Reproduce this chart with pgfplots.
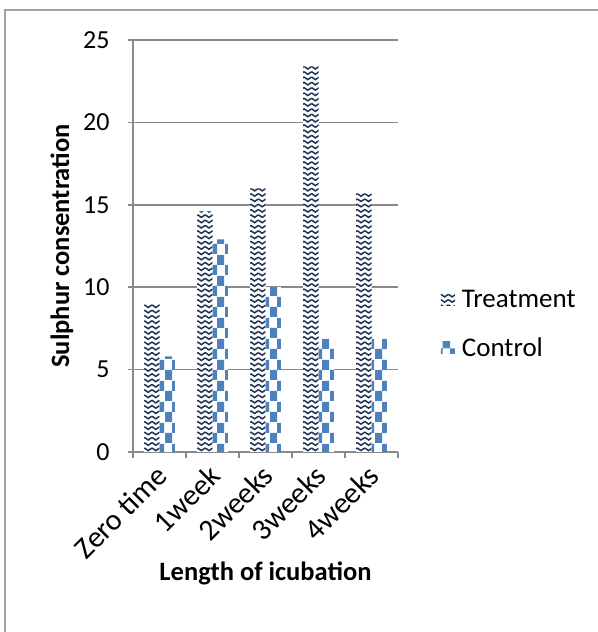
\documentclass[border=0pt]{standalone}
\usepackage{fontspec}
\setmainfont{Carlito}
\usepackage{pgfplots}
\pgfplotsset{compat=1.18}
\usetikzlibrary{patterns}

\definecolor{gridgray}{HTML}{8A8A8A}
\definecolor{navyT}{HTML}{1F3356}
\definecolor{blueC}{HTML}{4F81BD}

\pgfdeclarepatternformonly{waveT}{\pgfqpoint{-1bp}{-1bp}}{\pgfqpoint{9bp}{6.3bp}}{\pgfqpoint{7.6bp}{5.3bp}}{
  \pgfsetlinewidth{1.5bp}
  \pgfpathmoveto{\pgfqpoint{0bp}{3.8bp}}
  \pgfpathlineto{\pgfqpoint{3.8bp}{1.2bp}}
  \pgfpathlineto{\pgfqpoint{7.6bp}{3.8bp}}
  \pgfusepath{stroke}
}
\pgfdeclarepatternformonly{checkC}{\pgfqpoint{0bp}{0bp}}{\pgfqpoint{15bp}{21bp}}{\pgfqpoint{15bp}{21bp}}{
  \pgfpathrectangle{\pgfqpoint{0bp}{0bp}}{\pgfqpoint{7.5bp}{10.5bp}}
  \pgfpathrectangle{\pgfqpoint{7.5bp}{10.5bp}}{\pgfqpoint{7.5bp}{10.5bp}}
  \pgfusepath{fill}
}

\pgfplotstableread{
x treat control
0 9.0 5.8
1 14.6 12.9
2 16.0 10.0
3 23.4 6.9
4 15.7 6.9
}\datatable

\begin{document}
\begin{tikzpicture}
\path[use as bounding box] (0,0) rectangle (598bp,632bp);
\draw[gridgray!80, line width=1.5bp] (5bp,0bp) -- (5bp,622bp) -- (598bp,622bp);
\begin{axis}[
  at={(133bp,180bp)}, anchor=south west,
  scale only axis, width=265bp, height=412bp,
  ybar=0pt, bar width=15.3bp,
  xmin=-0.5, xmax=4.5, ymin=0, ymax=25,
  ytick={0,5,...,25},
  xtick={0,1,2,3,4},
  xticklabels={Zero time,1week,2weeks,3weeks,4weeks},
  minor xtick={-0.5,0.5,...,4.5},
  axis x line*=bottom, axis y line*=left,
  axis line style={gridgray, line width=1.5bp},
  tick align=outside,
  major tick length=5bp, minor tick length=6bp,
  xtick style={draw=none},
  ytick style={gridgray, line width=1.5bp},
  minor x tick style={gridgray, line width=1.5bp, draw=gridgray},
  ymajorgrids,
  major grid style={gridgray, line width=1.5bp},
  /pgf/number format/assume math mode=true,
  tick label style={font=\fontsize{26bp}{30bp}\selectfont, black},
  xticklabel style={font=\fontsize{30bp}{34bp}\selectfont, xshift=-5bp, yshift=-6bp, rotate=45, anchor=north east, inner sep=0pt},
  yticklabel style={xshift=-15bp},
  xlabel={\textbf{Length of icubation}},
  ylabel={\textbf{Sulphur consentration}},
  label style={font=\fontsize{26.5bp}{30bp}\selectfont},
  xlabel style={at={(axis description cs:0.5,-0.294)}, anchor=center},
  ylabel style={at={(axis description cs:-0.268,0.5)}, anchor=center},
  legend style={draw=none, fill=none, at={(axis description cs:1.15,0.311)}, anchor=west,
    font=\fontsize{27bp}{30bp}\selectfont, row sep=25bp,
    legend cell align=left},
  legend image code/.code={\path[#1, draw=none] (0bp,-6bp) rectangle (14bp,6bp); \path (0bp,0bp) -- (19bp,0bp);},
]
\addplot[draw=none, fill=white, postaction={pattern=waveT, pattern color=navyT}] table[x=x, y=treat] {\datatable};
\addplot[draw=none, fill=white, postaction={pattern=checkC, pattern color=blueC}] table[x=x, y=control] {\datatable};
\legend{Treatment, Control}
\end{axis}
\end{tikzpicture}
\end{document}
